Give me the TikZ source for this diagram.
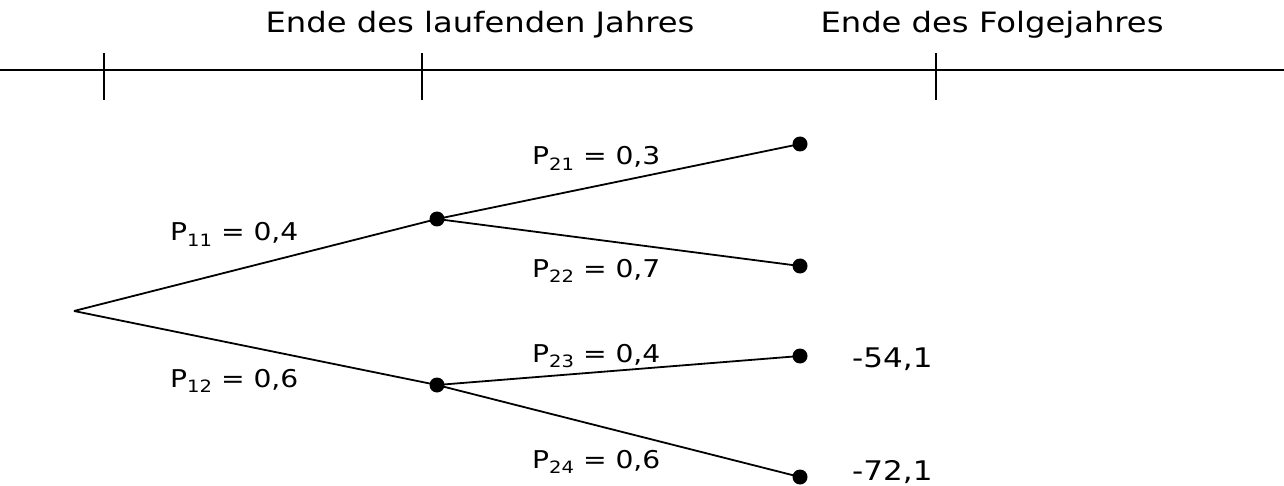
\documentclass[tikz,border=0pt]{standalone}
\usepackage{fontspec}
\setmainfont{DejaVu Sans}[FakeStretch=1.15]
\usetikzlibrary{positioning}

\newcommand{\psub}[1]{\raisebox{-5.5pt}{\fontsize{17}{20}\selectfont #1}}

\begin{document}
\begin{tikzpicture}[
    font=\fontsize{28}{32}\selectfont,
    axis/.style={line width=1.8pt, draw=black},
    branch/.style={line width=1.8pt, draw=black},
    dot/.style={circle, fill=black, inner sep=0pt, minimum size=15pt},
    prob/.style={anchor=base west, inner sep=0pt, font=\fontsize{24.5}{28}\selectfont},
    payoff/.style={anchor=base west, inner sep=0pt, font=\fontsize{27}{32}\selectfont},
]

\useasboundingbox (0pt,0pt) rectangle (1284pt,-486pt);

\def\colA{104}
\def\colB{422}
\def\colC{936}
\def\colN{437}
\def\colL{800}

% time axis
\coordinate (axL) at (0pt,-70pt);
\coordinate (axR) at (1284pt,-70pt);
\draw[axis] (axL) -- (axR);
\foreach \x in {\colA, \colB, \colC}
    \draw[axis] (\x pt,-53pt) -- (\x pt,-100pt);

\node (t1) at (480pt,-25pt) {Ende des laufenden Jahres};
\node (t2) at (992pt,-25pt) {Ende des Folgejahres};

% tree
\coordinate (root) at (74pt,-311pt);
\node[dot] (n1) at (\colN pt,-219pt) {};
\node[dot] (n2) at (\colN pt,-385pt) {};
\node[dot] (l1) at (\colL pt,-144pt) {};
\node[dot] (l2) at (\colL pt,-266pt) {};
\node[dot] (l3) at (\colL pt,-356pt) {};
\node[dot] (l4) at (\colL pt,-477pt) {};

\draw[branch] (root) -- (n1.center);
\draw[branch] (root) -- (n2.center);
\draw[branch] (n1.center) -- (l1.center);
\draw[branch] (n1.center) -- (l2.center);
\draw[branch] (n2.center) -- (l3.center);
\draw[branch] (n2.center) -- (l4.center);

% probabilities
\node[prob] (p11) at (170pt,-241pt) {P\psub{11} = 0,4};
\node[prob] (p12) at (170pt,-387pt) {P\psub{12} = 0,6};
\node[prob] (p21) at (532pt,-165pt) {P\psub{21} = 0,3};
\node[prob] (p22) at (532pt,-277pt) {P\psub{22} = 0,7};
\node[prob] (p23) at (532pt,-362pt) {P\psub{23} = 0,4};
\node[prob] (p24) at (532pt,-468pt) {P\psub{24} = 0,6};

% payoffs
\node[payoff] (v3) at (852pt,-367pt) {-54,1};
\node[payoff] (v4) at (852pt,-480pt) {-72,1};

\end{tikzpicture}
\end{document}
